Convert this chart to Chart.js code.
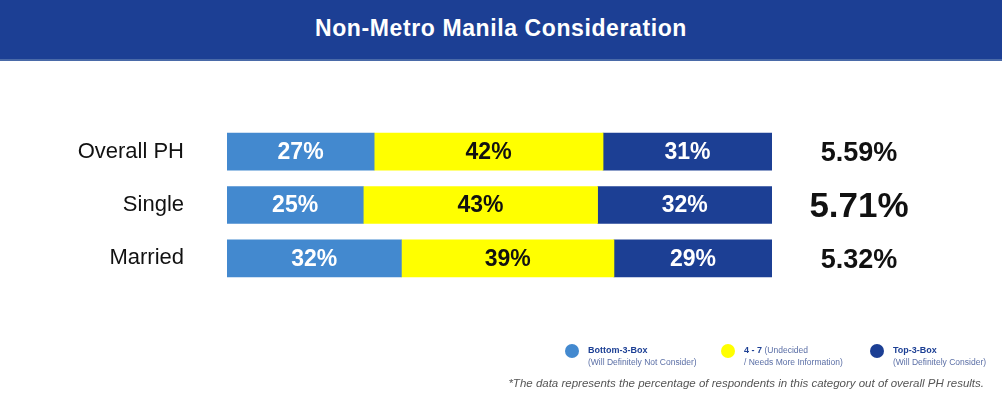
<!DOCTYPE html>
<html>
<head>
<meta charset="utf-8">
<script src="https://cdn.jsdelivr.net/npm/chart.js@4"></script>
<style>
  body { margin: 0; background: #fff; font-family: "Liberation Sans", Arial, sans-serif; }
  #wrap { position: relative; width: 1002px; height: 401px; overflow: hidden; }
  #head { position: absolute; left: 0; top: 0; width: 1002px; height: 59px; background: #1c3f94;
          border-bottom: 2px solid #4a6aa8; color: #fff; font-weight: bold; font-size: 23px;
          text-align: center; line-height: 57px; letter-spacing: 0.6px; }
  #box { position: absolute; left: 0; top: 0; width: 1002px; height: 401px; }
</style>
</head>
<body>
<div id="wrap">
  <div id="box"><canvas id="c"></canvas></div>
  <div id="head">Non-Metro Manila Consideration</div>
</div>
<script>
// data
const kategori = ["Overall PH", "Single", "Married"];
const bawah = [27, 25, 32];
const tengah = [42, 43, 39];
const atas = [31, 32, 29];
const rataRata = ["5.59%", "5.71%", "5.32%"];
const ukuranRata = [27, 35, 27];

const namaSeri = ["Bottom-3-Box", "4 - 7", "Top-3-Box"];
const ketSeri = [["(Will Definitely Not Consider)"], ["(Undecided", "/ Needs More Information)"], ["(Will Definitely Consider)"]];
const warna = ["#4389cf", "#ffff00", "#1c3f94"];
const warnaTeks = ["#ffffff", "#111111", "#ffffff"];
const catatan = "*The data represents the percentage of respondents in this category out of overall PH results.";

// label di dalam batang + nilai di kanan
const labelPlugin = {
  id: "labelBatang",
  afterDatasetsDraw(chart) {
    const ctx = chart.ctx;
    ctx.save();
    ctx.textAlign = "center";
    ctx.textBaseline = "middle";
    chart.data.datasets.forEach((ds, i) => {
      chart.getDatasetMeta(i).data.forEach((bar, j) => {
        const x = (bar.base + bar.x) / 2;
        ctx.fillStyle = warnaTeks[i];
        ctx.font = "bold 23px 'Liberation Sans', Arial, sans-serif";
        ctx.fillText(ds.data[j] + "%", x, bar.y + 1);
      });
    });
    const meta = chart.getDatasetMeta(0);
    meta.data.forEach((bar, j) => {
      ctx.fillStyle = "#111";
      ctx.font = "bold " + ukuranRata[j] + "px 'Liberation Sans', Arial, sans-serif";
      ctx.fillText(rataRata[j], 859, bar.y + 2);
    });
    ctx.restore();
  }
};

// legenda dan catatan kaki
const legendaPlugin = {
  id: "legendaBawah",
  afterDraw(chart) {
    const ctx = chart.ctx;
    const posX = [572, 728, 877];
    ctx.save();
    namaSeri.forEach((nama, i) => {
      ctx.fillStyle = warna[i];
      ctx.beginPath();
      ctx.arc(posX[i], 351, 7, 0, Math.PI * 2);
      ctx.fill();
      const tx = posX[i] + 16;
      ctx.textAlign = "left";
      ctx.textBaseline = "alphabetic";
      ctx.font = "bold 9px 'Liberation Sans', Arial, sans-serif";
      ctx.fillStyle = "#1c3f94";
      ctx.fillText(nama, tx, 353);
      let w = ctx.measureText(nama + " ").width;
      ctx.font = "8.5px 'Liberation Sans', Arial, sans-serif";
      ctx.fillStyle = "#5b6fa6";
      const ket = ketSeri[i];
      if (ket.length > 1) {
        ctx.fillText(ket[0], tx + w, 353);
        ctx.fillText(ket[1], tx, 365);
      } else {
        ctx.fillText(ket[0], tx, 365);
      }
    });
    ctx.textAlign = "right";
    ctx.font = "italic 11.5px 'Liberation Sans', Arial, sans-serif";
    ctx.fillStyle = "#555";
    ctx.fillText(catatan, 984, 387);
    ctx.restore();
  }
};

new Chart(document.getElementById("c"), {
  type: "bar",
  data: {
    labels: kategori,
    datasets: [
      { label: namaSeri[0], data: bawah, backgroundColor: warna[0] },
      { label: namaSeri[1], data: tengah, backgroundColor: warna[1] },
      { label: namaSeri[2], data: atas, backgroundColor: warna[2] }
    ]
  },
  options: {
    indexAxis: "y",
    responsive: true,
    maintainAspectRatio: false,
    animation: false,
    events: [],
    barThickness: 37,
    layout: { padding: { top: 125, bottom: 116, right: 230, left: 0 } },
    scales: {
      x: { stacked: true, min: 0, max: 100, display: false },
      y: {
        stacked: true,
        grid: { display: false, drawTicks: false },
        border: { display: false },
        afterFit(scale) { scale.width = 227; },
        ticks: {
          padding: 43,
          color: "#111",
          font: { size: 22, family: "'Liberation Sans', Arial, sans-serif" }
        }
      }
    },
    plugins: { legend: { display: false }, tooltip: { enabled: false } }
  },
  plugins: [labelPlugin, legendaPlugin]
});
</script>
</body>
</html>
